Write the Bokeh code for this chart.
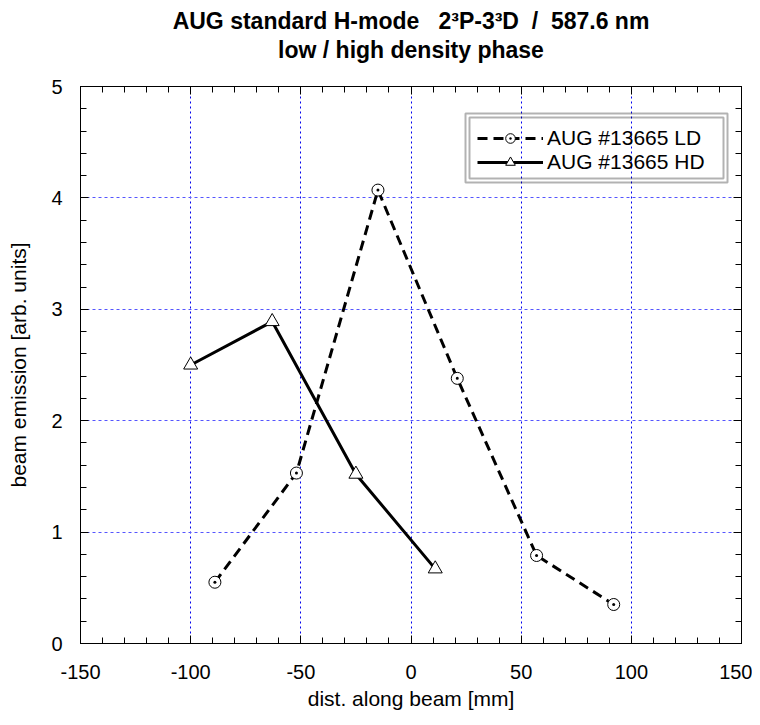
from bokeh.plotting import figure
from bokeh.models import (LinearAxis, BoxAnnotation, Legend, LegendItem, Range1d,
                          SingleIntervalTicker, Title, CustomJSTickFormatter)
from bokeh.embed import file_html
from bokeh.resources import INLINE

# data
ld_x = [-89, -52, -15, 21, 57, 92]
ld_y = [0.55, 1.53, 4.07, 2.38, 0.79, 0.35]
hd_x = [-100, -63, -25, 11]
hd_y = [2.50, 2.89, 1.52, 0.67]
ld_label = "AUG #13665 LD"
hd_label = "AUG #13665 HD"
title1 = "AUG standard H-mode\u00a0\u00a0\u00a02\u00b3P-3\u00b3D\u00a0\u00a0/\u00a0\u00a0587.6 nm"
title2 = "low / high density phase"
xlabel = "dist. along beam [mm]"
ylabel = "beam emission [arb. units]"

FONT = "Liberation Sans"

p = figure(width=752, height=723, output_backend="svg", toolbar_location=None,
           x_range=Range1d(-150, 150), y_range=Range1d(0, 5),
           min_border_left=80, min_border_right=11, min_border_top=86,
           min_border_bottom=80, x_axis_label=xlabel, y_axis_label=ylabel)
p.outline_line_color = "black"
p.outline_line_width = 1
p.background_fill_color = "white"
p.border_fill_color = "white"
p.title = None

fmt = CustomJSTickFormatter(code="return String(tick);")
blank = CustomJSTickFormatter(code="return '';")

def style_axis(ax, show_labels=True):
    ax.axis_line_color = "black"
    ax.axis_line_width = 1
    ax.major_tick_in = 8
    ax.major_tick_out = 0
    ax.minor_tick_in = 6
    ax.minor_tick_out = 0
    ax.major_tick_line_color = "black"
    ax.minor_tick_line_color = "black"
    ax.major_label_text_font = FONT
    ax.major_label_text_font_size = "20px"
    ax.major_label_text_color = "black"
    ax.axis_label_text_font = FONT
    ax.axis_label_text_font_size = "21px"
    ax.axis_label_text_font_style = "normal"
    ax.axis_label_text_color = "black"
    ax.formatter = fmt if show_labels else blank

xt = SingleIntervalTicker(interval=50, num_minor_ticks=5)
yt = SingleIntervalTicker(interval=1, num_minor_ticks=5)

p.xaxis.ticker = xt
p.yaxis.ticker = yt
style_axis(p.xaxis[0])
style_axis(p.yaxis[0])
p.xaxis.major_label_standoff = 21
p.xaxis.axis_label_standoff = 5
p.yaxis.major_label_standoff = 18
p.yaxis.axis_label_standoff = 18

top = LinearAxis(ticker=SingleIntervalTicker(interval=50, num_minor_ticks=5))
style_axis(top, False)
top.major_label_standoff = 0
p.add_layout(top, "above")
right = LinearAxis(ticker=SingleIntervalTicker(interval=1, num_minor_ticks=5))
style_axis(right, False)
right.major_label_standoff = 0
p.add_layout(right, "right")

# titles: a thin spacer, then the two title lines
spacer = Title(text="\u00a0", text_font=FONT, text_font_size="10px", standoff=10)
t2 = Title(text=title2, align="center", text_font=FONT, text_font_size="23px",
           text_font_style="bold", text_color="black", standoff=2)
t1 = Title(text=title1, align="center", text_font=FONT, text_font_size="23px",
           text_font_style="bold", text_color="black", standoff=0)
p.add_layout(spacer, "above")
p.add_layout(t2, "above")
p.add_layout(t1, "above")

p.xgrid.ticker = xt
p.ygrid.ticker = yt
p.xgrid.grid_line_color = "#0000ee"
p.xgrid.grid_line_dash = "2 3"
p.xgrid.grid_line_width = 1
p.ygrid.grid_line_color = "#5555ff"
p.ygrid.grid_line_dash = "3 3"
p.ygrid.grid_line_width = 1

l1 = p.line(ld_x, ld_y, line_color="black", line_width=3, line_dash="10 6")
s1 = p.scatter(ld_x, ld_y, marker="circle_dot", size=12, fill_color="white",
               line_color="black", line_width=1)
l2 = p.line(hd_x, hd_y, line_color="black", line_width=3)
s2 = p.scatter(hd_x, hd_y, marker="triangle", size=14, fill_color="white",
               line_color="black", line_width=1)

# double frame around legend (data coords)
p.add_layout(BoxAnnotation(left=24.735, right=143.65, bottom=4.1382, top=4.7576,
                           fill_color=None, line_color="black", line_width=2))
p.add_layout(BoxAnnotation(left=26.55, right=141.83, bottom=4.1741, top=4.7217,
                           fill_color=None, line_color="black", line_width=2))

legend = Legend(items=[LegendItem(label=ld_label, renderers=[l1, s1]),
                       LegendItem(label=hd_label, renderers=[l2, s2])],
                location=(397, 469), border_line_color=None,
                background_fill_alpha=0, padding=6, spacing=-3, margin=0,
                glyph_width=66, glyph_height=24, label_height=24,
                label_standoff=4,
                label_text_font=FONT, label_text_font_size="21px",
                label_text_color="black")
p.add_layout(legend, "center")

open("out.html", "w").write(file_html(p, INLINE))
